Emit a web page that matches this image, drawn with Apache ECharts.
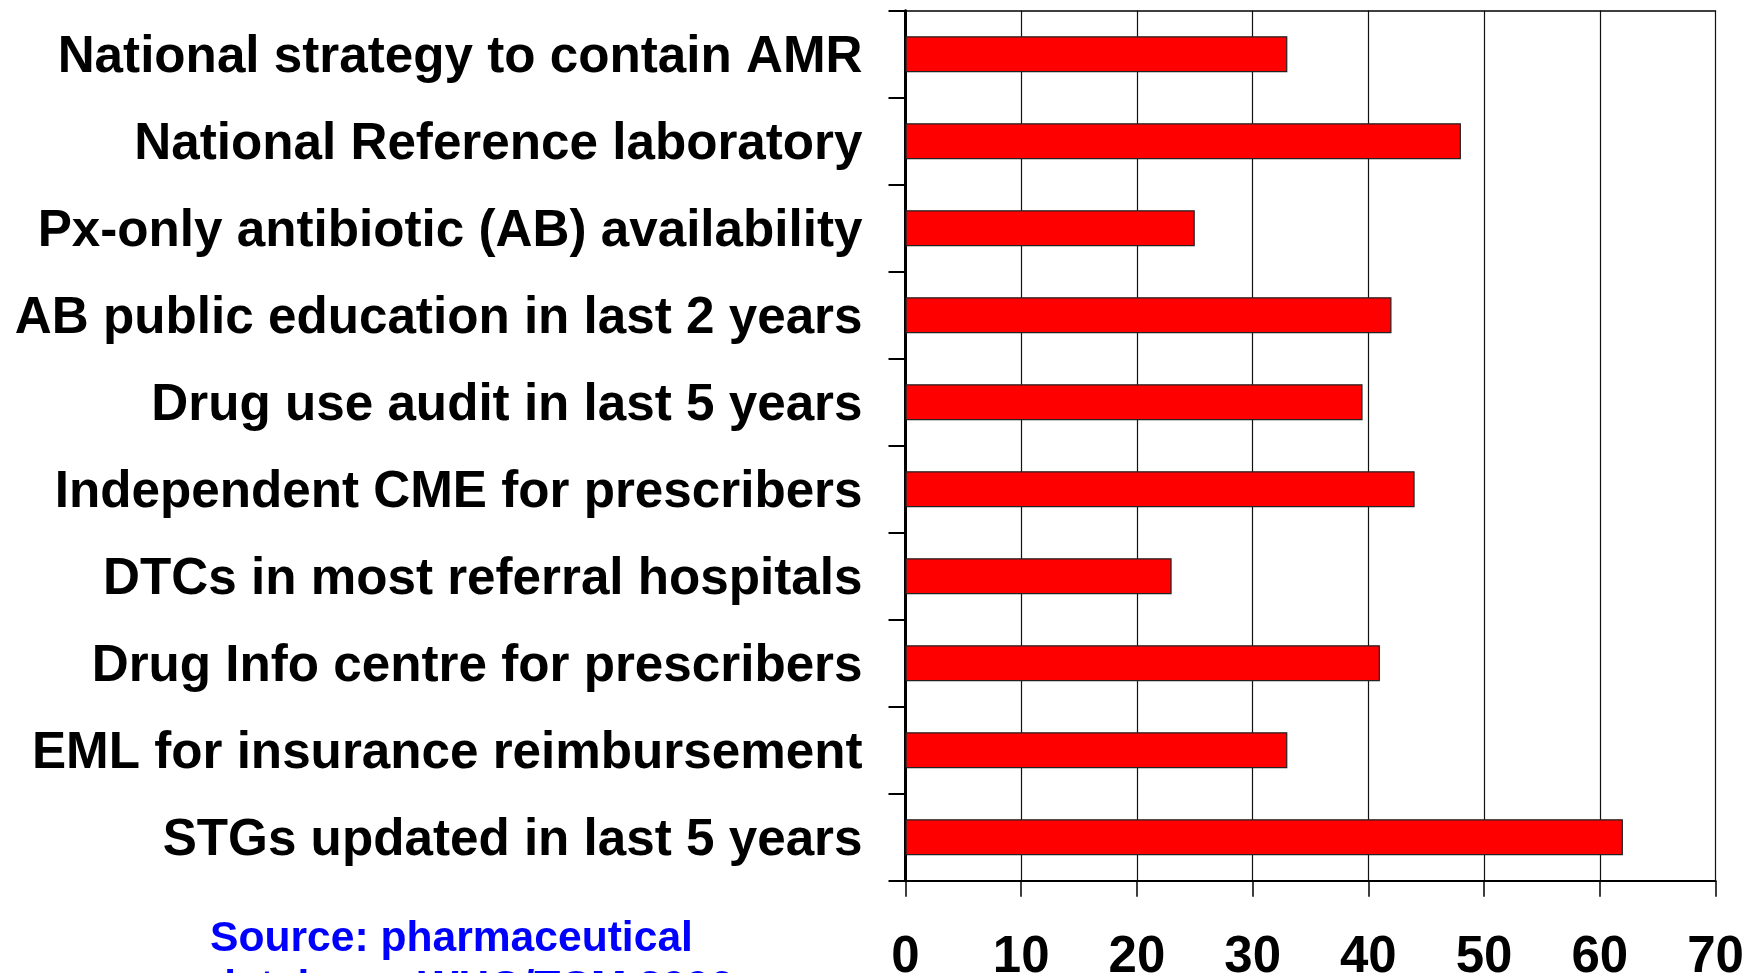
<!DOCTYPE html>
<html>
<head>
<meta charset="utf-8">
<script src="https://cdn.jsdelivr.net/npm/echarts@6/dist/echarts.min.js"></script>
<style>
html,body{margin:0;padding:0;background:#fff;}
#chart{width:1746px;height:973px;}
</style>
</head>
<body>
<div id="chart"></div>
<script>
const categories = [
  "National strategy to contain AMR",
  "National Reference laboratory",
  "Px-only antibiotic (AB) availability",
  "AB public education in last 2 years",
  "Drug use audit in last 5 years",
  "Independent CME for prescribers",
  "DTCs in most referral hospitals",
  "Drug Info centre for prescribers",
  "EML for insurance reimbursement",
  "STGs updated in last 5 years"
];
const values = [33, 48, 25, 42, 39.5, 44, 23, 41, 33, 62];
const valueTicks = [0, 10, 20, 30, 40, 50, 60, 70];
const sourceLines = ["Source: pharmaceutical", "database, WHO/TCM 2006"];

const FONT = "'Liberation Sans', Arial, Helvetica, sans-serif";
const chart = echarts.init(document.getElementById('chart'), null, {renderer: 'canvas'});
chart.setOption({
  animation: false,
  backgroundColor: '#ffffff',
  grid: {left: 905.5, right: 30.5, top: 10.7, bottom: 92.3, containLabel: false, outerBoundsMode: 'none'},
  xAxis: [{
    type: 'value',
    min: valueTicks[0],
    max: valueTicks[valueTicks.length - 1],
    interval: 10,
    position: 'bottom',
    axisLine: {show: true, lineStyle: {color: '#000', width: 2}},
    axisTick: {show: true, length: 16, lineStyle: {color: '#000', width: 1.5}},
    axisLabel: {color: '#000', fontFamily: FONT, fontWeight: 'bold', fontSize: 51, margin: 52},
    splitLine: {show: true, lineStyle: {color: '#111', width: 1.2}}
  }, {
    type: 'value',
    min: valueTicks[0],
    max: valueTicks[valueTicks.length - 1],
    interval: 10,
    position: 'top',
    axisLine: {show: true, lineStyle: {color: '#000', width: 1.5}},
    axisTick: {show: false},
    axisLabel: {show: false},
    splitLine: {show: false}
  }],
  yAxis: [{
    type: 'category',
    data: categories,
    inverse: true,
    position: 'left',
    axisLine: {show: true, lineStyle: {color: '#000', width: 2}},
    axisTick: {show: true, length: 17, lineStyle: {color: '#000', width: 2}},
    axisLabel: {color: '#000', fontFamily: FONT, fontWeight: 'bold', fontSize: 51.2, margin: 43,
                verticalAlign: 'top', lineHeight: 8},
    splitLine: {show: false}
  }, {
    type: 'category',
    data: categories,
    inverse: true,
    position: 'right',
    axisLine: {show: true, lineStyle: {color: '#000', width: 3}},
    axisTick: {show: false},
    axisLabel: {show: false}
  }],
  series: [{
    type: 'bar',
    data: values,
    xAxisIndex: 0,
    yAxisIndex: 0,
    barWidth: 36,
    itemStyle: {color: '#ff0000', borderColor: '#222', borderWidth: 1.2}
  }],
  graphic: [{
    type: 'text',
    left: 210,
    top: 915,
    style: {
      text: sourceLines.join('\n'),
      fill: '#0000ff',
      font: "bold 42.6px 'Liberation Sans', Arial, sans-serif",
      lineHeight: 49
    }
  }]
});
</script>
</body>
</html>
